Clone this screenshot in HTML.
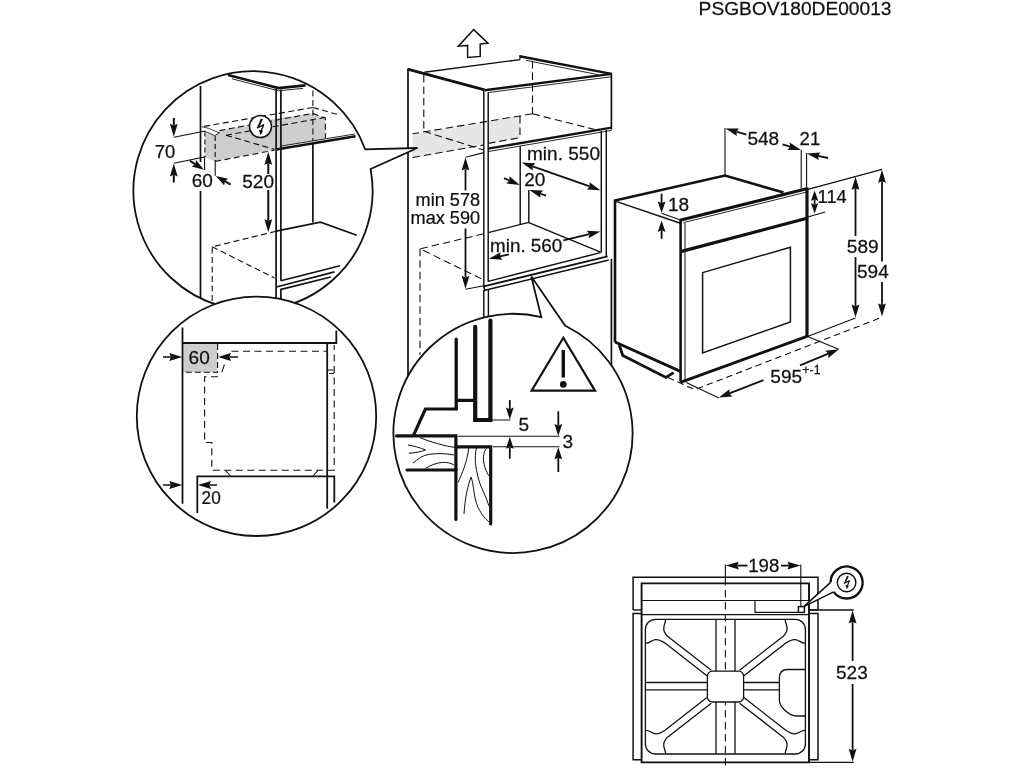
<!DOCTYPE html>
<html><head><meta charset="utf-8"><title>PSGBOV180DE00013</title>
<style>
html,body{margin:0;padding:0;background:#fff;}
body{width:1024px;height:768px;overflow:hidden;font-family:"Liberation Sans",sans-serif;}
svg{display:block;position:absolute;left:0;top:0;will-change:transform;}
text{font-family:"Liberation Sans",sans-serif;fill:#111;stroke:#111;stroke-width:0.25px;}
</style></head><body>
<svg width="1024" height="768" viewBox="0 0 1024 768">
<defs>
<clipPath id="cA"><circle cx="253" cy="190.8" r="119.6"/></clipPath>
<clipPath id="cB"><circle cx="256.5" cy="416.3" r="119.7"/></clipPath>
<clipPath id="cC"><circle cx="513" cy="433.4" r="119.6"/></clipPath>
</defs>
<rect x="0" y="0" width="1024" height="768" fill="#fff"/>
<text transform="translate(698.6 14.6) scale(1.01 1)" font-size="19" text-anchor="start" >PSGBOV180DE00013</text>
<polygon points="473.7,29.6 488,43.2 480.2,44 480.2,56.4 467.6,57.4 467.6,45.4 458.4,46.2" fill="#fff" stroke="#111" stroke-width="1.5" stroke-linejoin="miter"/>
<polygon points="412.5,133.75 483.75,121.9 483.75,145 412.5,157.5" fill="#e6e6e6" stroke="none" stroke-width="0"/>
<polygon points="488,121.2 520,115.85 520,137.7 488,143.4" fill="#e6e6e6" stroke="none" stroke-width="0"/>
<polyline points="408,68.8 408,380" fill="none" stroke="#111" stroke-width="1.7" stroke-linecap="butt" stroke-linejoin="miter" />
<polyline points="407.5,69.2 484.6,89.8" fill="none" stroke="#111" stroke-width="2.8" stroke-linecap="butt" stroke-linejoin="miter" />
<polyline points="484.6,90.2 611.6,73.9" fill="none" stroke="#111" stroke-width="2.4" stroke-linecap="butt" stroke-linejoin="miter" />
<polyline points="488,92.6 611,76.8" fill="none" stroke="#111" stroke-width="0.9" stroke-linecap="butt" stroke-linejoin="miter" />
<polyline points="424.4,72.2 520,59.6" fill="none" stroke="#111" stroke-width="1.4" stroke-linecap="butt" stroke-linejoin="miter" />
<polyline points="520,55 520,59.8" fill="none" stroke="#111" stroke-width="1.1" stroke-linecap="butt" stroke-linejoin="miter" />
<polyline points="519.5,56.2 611.6,73.9" fill="none" stroke="#111" stroke-width="2.4" stroke-linecap="butt" stroke-linejoin="miter" />
<polyline points="526,60.4 598,74.6" fill="none" stroke="#111" stroke-width="0.9" stroke-linecap="butt" stroke-linejoin="miter" />
<polyline points="483.8,91 483.8,287" fill="none" stroke="#111" stroke-width="1.45" stroke-linecap="butt" stroke-linejoin="miter" />
<polyline points="488.2,92.5 488.2,281.5" fill="none" stroke="#111" stroke-width="1.45" stroke-linecap="butt" stroke-linejoin="miter" />
<polyline points="611.4,73.8 611.4,129.5" fill="none" stroke="#111" stroke-width="1.7" stroke-linecap="butt" stroke-linejoin="miter" />
<polyline points="488,148.6 611.5,127.6" fill="none" stroke="#111" stroke-width="2.4" stroke-linecap="butt" stroke-linejoin="miter" />
<polyline points="488,151.6 611.5,130.4" fill="none" stroke="#111" stroke-width="0.9" stroke-linecap="butt" stroke-linejoin="miter" />
<polyline points="601.3,131 601.3,252.5" fill="none" stroke="#111" stroke-width="1.45" stroke-linecap="butt" stroke-linejoin="miter" />
<polyline points="606.3,130 606.3,257" fill="none" stroke="#111" stroke-width="1.45" stroke-linecap="butt" stroke-linejoin="miter" />
<polyline points="423.8,75 423.8,131.3" fill="none" stroke="#111" stroke-width="1.1" stroke-linecap="butt" stroke-linejoin="miter" stroke-dasharray="7.5 4" />
<polyline points="532.5,61 532.5,113.8" fill="none" stroke="#111" stroke-width="1.1" stroke-linecap="butt" stroke-linejoin="miter" stroke-dasharray="7.5 4" />
<polyline points="532.5,113.8 412.5,133.8" fill="none" stroke="#111" stroke-width="1.1" stroke-linecap="butt" stroke-linejoin="miter" stroke-dasharray="7.5 4" />
<polyline points="532.5,113.8 600,130.8" fill="none" stroke="#111" stroke-width="1.1" stroke-linecap="butt" stroke-linejoin="miter" stroke-dasharray="7.5 4" />
<polyline points="412.5,157.5 483.8,145" fill="none" stroke="#111" stroke-width="1.1" stroke-linecap="butt" stroke-linejoin="miter" stroke-dasharray="7.5 4" />
<polyline points="423.8,131.3 483.8,150" fill="none" stroke="#111" stroke-width="1.1" stroke-linecap="butt" stroke-linejoin="miter" stroke-dasharray="7.5 4" />
<polyline points="520,116 520,137.7" fill="none" stroke="#111" stroke-width="1.1" stroke-linecap="butt" stroke-linejoin="miter" stroke-dasharray="7.5 4" />
<polyline points="488,143.4 520,137.7" fill="none" stroke="#111" stroke-width="1.1" stroke-linecap="butt" stroke-linejoin="miter" stroke-dasharray="7.5 4" />
<polyline points="520.2,146.3 520.2,224.2" fill="none" stroke="#111" stroke-width="1.45" stroke-linecap="butt" stroke-linejoin="miter" />
<polyline points="528.8,190 528.8,222.6" fill="none" stroke="#111" stroke-width="1.45" stroke-linecap="butt" stroke-linejoin="miter" />
<polyline points="488.2,232.6 528.8,222.4" fill="none" stroke="#111" stroke-width="1.45" stroke-linecap="butt" stroke-linejoin="miter" />
<polyline points="528.8,222.6 600.5,252.2" fill="none" stroke="#111" stroke-width="1.45" stroke-linecap="butt" stroke-linejoin="miter" />
<polyline points="483.8,233.8 420,248.8 483.8,280" fill="none" stroke="#111" stroke-width="1.1" stroke-linecap="butt" stroke-linejoin="miter" stroke-dasharray="7.5 4" />
<polyline points="420,248.8 420,355" fill="none" stroke="#111" stroke-width="1.1" stroke-linecap="butt" stroke-linejoin="miter" stroke-dasharray="7.5 4" />
<polyline points="483.8,286.4 607.6,256.3" fill="none" stroke="#111" stroke-width="1.8" stroke-linecap="butt" stroke-linejoin="miter" />
<polyline points="483.8,286.4 484.8,290.4 608.8,260" fill="none" stroke="#111" stroke-width="1.6" stroke-linecap="butt" stroke-linejoin="miter" />
<polyline points="488.2,281.4 600.5,252.6" fill="none" stroke="#111" stroke-width="1.45" stroke-linecap="butt" stroke-linejoin="miter" />
<polyline points="483.8,290 483.8,320" fill="none" stroke="#111" stroke-width="1.45" stroke-linecap="butt" stroke-linejoin="miter" />
<polyline points="488.4,289.5 488.4,320" fill="none" stroke="#111" stroke-width="1.45" stroke-linecap="butt" stroke-linejoin="miter" />
<polyline points="611.4,258.8 611.4,368" fill="none" stroke="#111" stroke-width="1.7" stroke-linecap="butt" stroke-linejoin="miter" />
<polyline points="465.5,157.2 483.8,152.6" fill="none" stroke="#111" stroke-width="1.1" stroke-linecap="butt" stroke-linejoin="miter" />
<polygon points="465.5,157.4 469.4,170.4 465.5,168.8 461.6,170.4" fill="#111" stroke="none" stroke-width="0"/>
<polyline points="465.5,190.5 465.5,168.8" fill="none" stroke="#111" stroke-width="1.8" stroke-linecap="butt" stroke-linejoin="miter" />
<text transform="translate(415.6 205.8) scale(0.98 1)" font-size="18.5" text-anchor="start" >min 578</text>
<text transform="translate(410.6 224.4) scale(0.98 1)" font-size="18.5" text-anchor="start" >max 590</text>
<polygon points="465.5,288.8 461.6,275.8 465.5,277.4 469.4,275.8" fill="#111" stroke="none" stroke-width="0"/>
<polyline points="465.5,228.5 465.5,277.4" fill="none" stroke="#111" stroke-width="1.8" stroke-linecap="butt" stroke-linejoin="miter" />
<polyline points="465.5,289.3 483.8,285.8" fill="none" stroke="#111" stroke-width="1.1" stroke-linecap="butt" stroke-linejoin="miter" />
<text transform="translate(527 160) scale(1.03 1)" font-size="18.5" text-anchor="start" >min. 550</text>
<polygon points="521.8,162.6 535.36,163.22 532.56,166.37 532.78,170.58" fill="#111" stroke="none" stroke-width="0"/>
<polygon points="600.5,190.2 586.94,189.58 589.74,186.43 589.52,182.22" fill="#111" stroke="none" stroke-width="0"/>
<polyline points="532.56,166.37 589.74,186.43" fill="none" stroke="#111" stroke-width="1.8" stroke-linecap="butt" stroke-linejoin="miter" />
<text transform="translate(524.2 186.4) scale(1.03 1)" font-size="18.5" text-anchor="start" >20</text>
<polygon points="519.8,185 506.32,183.44 509.33,180.49 509.4,176.28" fill="#111" stroke="none" stroke-width="0"/>
<polyline points="504,178.2 509.33,180.49" fill="none" stroke="#111" stroke-width="1.8" stroke-linecap="butt" stroke-linejoin="miter" />
<polygon points="529.4,190 542.96,190.46 540.2,193.64 540.47,197.85" fill="#111" stroke="none" stroke-width="0"/>
<polyline points="546,195.6 540.2,193.64" fill="none" stroke="#111" stroke-width="1.8" stroke-linecap="butt" stroke-linejoin="miter" />
<text transform="translate(490 251.8) scale(1.02 1)" font-size="18.5" text-anchor="start" >min. 560</text>
<polygon points="600.4,231.4 588.69,238.26 589.32,234.09 586.85,230.68" fill="#111" stroke="none" stroke-width="0"/>
<polyline points="563.4,240.4 589.32,234.09" fill="none" stroke="#111" stroke-width="1.8" stroke-linecap="butt" stroke-linejoin="miter" />
<polygon points="488.8,258.8 500.67,252.22 499.94,256.37 502.33,259.84" fill="#111" stroke="none" stroke-width="0"/>
<polyline points="509,254.4 499.94,256.37" fill="none" stroke="#111" stroke-width="1.8" stroke-linecap="butt" stroke-linejoin="miter" />
<path d="M370.6 169 A119.6 119.6 0 1 1 365.17 149.31 L417.5 148 Z" fill="#fff" stroke="#111" stroke-width="1.8" stroke-linejoin="miter" stroke-linecap="butt" />
<g clip-path="url(#cA)">
<polygon points="205.2,131.8 214.8,135.6 219.5,131 246.6,124.9 275.7,118.5 312.9,113.5 325.4,118.1 325.4,138.5 281.6,146.5 276.2,149.2 214.8,161.2 205.2,157.2" fill="#cdcdcd" stroke="none" stroke-width="0"/>
<polyline points="200.5,86 200.5,162" fill="none" stroke="#111" stroke-width="1.7" stroke-linecap="butt" stroke-linejoin="miter" />
<polyline points="200.5,191 200.5,312" fill="none" stroke="#111" stroke-width="1.7" stroke-linecap="butt" stroke-linejoin="miter" />
<polyline points="228,75 278.5,88.1 305.6,85.4" fill="none" stroke="#111" stroke-width="2.6" stroke-linecap="butt" stroke-linejoin="miter" />
<polyline points="232,78.8 278.6,90.8 303,88.4" fill="none" stroke="#111" stroke-width="0.9" stroke-linecap="butt" stroke-linejoin="miter" />
<polyline points="276.1,88.5 276.1,312" fill="none" stroke="#111" stroke-width="1.7" stroke-linecap="butt" stroke-linejoin="miter" />
<polyline points="280.9,89.5 280.9,280.8" fill="none" stroke="#111" stroke-width="1.7" stroke-linecap="butt" stroke-linejoin="miter" />
<polyline points="280.9,289.4 280.9,312" fill="none" stroke="#111" stroke-width="1.7" stroke-linecap="butt" stroke-linejoin="miter" />
<polyline points="312.9,90.6 312.9,141" fill="none" stroke="#111" stroke-width="1.1" stroke-linecap="butt" stroke-linejoin="miter" stroke-dasharray="6 3.5" />
<polyline points="312.9,143 312.9,222.5" fill="none" stroke="#111" stroke-width="1.7" stroke-linecap="butt" stroke-linejoin="miter" />
<polyline points="312.9,107.5 337.3,114.4" fill="none" stroke="#111" stroke-width="1.1" stroke-linecap="butt" stroke-linejoin="miter" stroke-dasharray="6 3.5" />
<polyline points="312.9,107.5 201.6,126.8" fill="none" stroke="#111" stroke-width="1.1" stroke-linecap="butt" stroke-linejoin="miter" stroke-dasharray="6 3.5" />
<polyline points="219.4,130.6 312.9,113.4 325.4,118.1 325.4,138" fill="none" stroke="#111" stroke-width="1.1" stroke-linecap="butt" stroke-linejoin="miter" stroke-dasharray="6 3.5" />
<polyline points="226,135.2 325.4,117.4" fill="none" stroke="#111" stroke-width="1.1" stroke-linecap="butt" stroke-linejoin="miter" stroke-dasharray="6 3.5" />
<polyline points="226,135.2 274.5,149.4" fill="none" stroke="#111" stroke-width="1.1" stroke-linecap="butt" stroke-linejoin="miter" stroke-dasharray="6 3.5" />
<polyline points="204.9,131.4 204.9,157" fill="none" stroke="#111" stroke-width="1.1" stroke-linecap="butt" stroke-linejoin="miter" stroke-dasharray="5 3" />
<polyline points="215.2,136.1 215.2,161.4" fill="none" stroke="#111" stroke-width="1.1" stroke-linecap="butt" stroke-linejoin="miter" stroke-dasharray="5 3" />
<polyline points="215.2,161.4 274.5,150.2" fill="none" stroke="#111" stroke-width="1.1" stroke-linecap="butt" stroke-linejoin="miter" stroke-dasharray="6 3.5" />
<polyline points="201.6,126.8 208.2,128.2 219.4,132.8 214.8,135.6 205.4,131.4" fill="none" stroke="#111" stroke-width="0.8" stroke-linecap="butt" stroke-linejoin="miter" />
<polyline points="276,149.5 355.6,136.2" fill="none" stroke="#111" stroke-width="2.4" stroke-linecap="butt" stroke-linejoin="miter" />
<polyline points="281.6,146 354.8,134" fill="none" stroke="#111" stroke-width="0.9" stroke-linecap="butt" stroke-linejoin="miter" />
<polyline points="276.2,231.2 320.5,222.2 356.8,235.2" fill="none" stroke="#111" stroke-width="1.7" stroke-linecap="butt" stroke-linejoin="miter" />
<polyline points="276.2,231.2 212.2,246.8 212.2,312" fill="none" stroke="#111" stroke-width="1.1" stroke-linecap="butt" stroke-linejoin="miter" stroke-dasharray="6 3.5" />
<polyline points="212.2,246.8 274.5,277.9" fill="none" stroke="#111" stroke-width="1.1" stroke-linecap="butt" stroke-linejoin="miter" stroke-dasharray="6 3.5" />
<polyline points="280.9,280.8 340.1,265.7" fill="none" stroke="#111" stroke-width="1.7" stroke-linecap="butt" stroke-linejoin="miter" />
<polyline points="276.4,287 334.5,271.9" fill="none" stroke="#111" stroke-width="1.7" stroke-linecap="butt" stroke-linejoin="miter" />
<polyline points="280.2,289.6 330.8,277" fill="none" stroke="#111" stroke-width="1.7" stroke-linecap="butt" stroke-linejoin="miter" />
<polyline points="173.8,137.3 205.4,131" fill="none" stroke="#111" stroke-width="1.1" stroke-linecap="butt" stroke-linejoin="miter" />
<polyline points="173.8,163.2 204.6,157 204.6,170" fill="none" stroke="#111" stroke-width="1.1" stroke-linecap="butt" stroke-linejoin="miter" />
<polygon points="173.8,136.8 169.9,123.8 173.8,125.4 177.7,123.8" fill="#111" stroke="none" stroke-width="0"/>
<polyline points="173.8,118 173.8,125.4" fill="none" stroke="#111" stroke-width="2" stroke-linecap="butt" stroke-linejoin="miter" />
<polygon points="173.8,163.4 177.7,176.4 173.8,174.8 169.9,176.4" fill="#111" stroke="none" stroke-width="0"/>
<polyline points="173.8,182.5 173.8,174.8" fill="none" stroke="#111" stroke-width="2" stroke-linecap="butt" stroke-linejoin="miter" />
<text transform="translate(154.8 158) scale(1 1)" font-size="18.5" text-anchor="start" >70</text>
<polygon points="203.9,169.8 191.71,166.55 195.17,164.15 195.95,160" fill="#111" stroke="none" stroke-width="0"/>
<polyline points="190,160.8 195.17,164.15" fill="none" stroke="#111" stroke-width="2" stroke-linecap="butt" stroke-linejoin="miter" />
<polyline points="215.2,161.4 215.2,175.8" fill="none" stroke="#111" stroke-width="1.1" stroke-linecap="butt" stroke-linejoin="miter" />
<polygon points="215.8,176 228.13,178.66 224.79,181.23 224.22,185.4" fill="#111" stroke="none" stroke-width="0"/>
<polyline points="230.6,184.6 224.79,181.23" fill="none" stroke="#111" stroke-width="2" stroke-linecap="butt" stroke-linejoin="miter" />
<text transform="translate(191.7 187) scale(1.03 1)" font-size="18.5" text-anchor="start" >60</text>
<polygon points="268.3,151.8 272.2,164.8 268.3,163.2 264.4,164.8" fill="#111" stroke="none" stroke-width="0"/>
<polyline points="268.3,174 268.3,163.2" fill="none" stroke="#111" stroke-width="2" stroke-linecap="butt" stroke-linejoin="miter" />
<polygon points="268.3,232.2 264.4,219.2 268.3,220.8 272.2,219.2" fill="#111" stroke="none" stroke-width="0"/>
<polyline points="268.3,190 268.3,220.8" fill="none" stroke="#111" stroke-width="2" stroke-linecap="butt" stroke-linejoin="miter" />
<text transform="translate(242.2 188.2) scale(1.03 1)" font-size="18.5" text-anchor="start" >520</text>
</g>
<circle cx="260.5" cy="126.6" r="11" fill="#fff" stroke="#111" stroke-width="1.5"/>
<polygon points="260.8,118.6 262.9,119.2 259.1,127.6 256.9,128.1" fill="#111" stroke="none" stroke-width="0"/>
<polyline points="257.4,127.7 263.5,124.9" fill="none" stroke="#111" stroke-width="1.5" stroke-linecap="round" stroke-linejoin="miter" />
<polyline points="263.5,124.9 261.1,131.4" fill="none" stroke="#111" stroke-width="1.4" stroke-linecap="round" stroke-linejoin="miter" />
<polygon points="260.5,135.2 258.8,129.8 263,130.9" fill="#111" stroke="none" stroke-width="0"/>
<circle cx="256.5" cy="416.3" r="119.7" fill="#fff" stroke="#111" stroke-width="1.8"/>
<g clip-path="url(#cB)">
<rect x="183.3" y="343.8" width="34" height="28.4" fill="#cdcdcd"/>
<polyline points="217.6,344 217.6,372.2 183.3,372.2" fill="none" stroke="#111" stroke-width="1.1" stroke-linecap="butt" stroke-linejoin="miter" stroke-dasharray="6 3" />
<polyline points="182.5,327.5 182.5,503.8" fill="none" stroke="#111" stroke-width="1.8" stroke-linecap="butt" stroke-linejoin="miter" />
<polyline points="182.5,343 336.3,343 336.3,330.5" fill="none" stroke="#111" stroke-width="1.8" stroke-linecap="butt" stroke-linejoin="miter" />
<polyline points="327.2,343.5 327.2,508.8" fill="none" stroke="#111" stroke-width="1.8" stroke-linecap="butt" stroke-linejoin="miter" />
<polyline points="197.3,513 197.3,476.3 334.3,476.3 334.3,502.5" fill="none" stroke="#111" stroke-width="1.8" stroke-linecap="butt" stroke-linejoin="miter" />
<polyline points="231.5,351.3 326.8,351.3" fill="none" stroke="#111" stroke-width="1.1" stroke-linecap="butt" stroke-linejoin="miter" stroke-dasharray="7 4.5" />
<polyline points="224.4,364.5 221.8,372.3" fill="none" stroke="#111" stroke-width="1.1" stroke-linecap="butt" stroke-linejoin="miter" />
<polyline points="218,376.8 204.6,376.8 204.6,442.5 211.8,442.5 211.8,470.2 334.2,470.2 334.2,345" fill="none" stroke="#111" stroke-width="1.1" stroke-linecap="butt" stroke-linejoin="miter" stroke-dasharray="7 4.5" />
<polyline points="327.5,370 333.5,370" fill="none" stroke="#111" stroke-width="1.1" stroke-linecap="butt" stroke-linejoin="miter" />
<polyline points="329,373.5 334,373.5" fill="none" stroke="#111" stroke-width="1.1" stroke-linecap="butt" stroke-linejoin="miter" />
<polyline points="225.5,470.4 230.5,476" fill="none" stroke="#111" stroke-width="1.1" stroke-linecap="butt" stroke-linejoin="miter" />
<polyline points="318,470.4 313,476" fill="none" stroke="#111" stroke-width="1.1" stroke-linecap="butt" stroke-linejoin="miter" />
<polygon points="182.3,357 169.3,360.9 170.9,357 169.3,353.1" fill="#111" stroke="none" stroke-width="0"/>
<polyline points="163,357 170.9,357" fill="none" stroke="#111" stroke-width="1.7" stroke-linecap="butt" stroke-linejoin="miter" />
<polygon points="218,357 231,353.1 229.4,357 231,360.9" fill="#111" stroke="none" stroke-width="0"/>
<polyline points="238,357 229.4,357" fill="none" stroke="#111" stroke-width="1.7" stroke-linecap="butt" stroke-linejoin="miter" />
<text transform="translate(188.6 363.6) scale(1.03 1)" font-size="18.5" text-anchor="start" >60</text>
<polygon points="182.3,485 169.3,488.9 170.9,485 169.3,481.1" fill="#111" stroke="none" stroke-width="0"/>
<polyline points="163,485 170.9,485" fill="none" stroke="#111" stroke-width="1.7" stroke-linecap="butt" stroke-linejoin="miter" />
<polygon points="198,485 211,481.1 209.4,485 211,488.9" fill="#111" stroke="none" stroke-width="0"/>
<polyline points="217,485 209.4,485" fill="none" stroke="#111" stroke-width="1.7" stroke-linecap="butt" stroke-linejoin="miter" />
<text transform="translate(201.6 504) scale(0.93 1)" font-size="18.5" text-anchor="start" >20</text>
</g>
<path d="M565.24 325.81 A119.6 119.6 0 1 1 541.33 317.2 L531.3 276.6 Z" fill="#fff" stroke="#111" stroke-width="1.8" stroke-linejoin="miter" stroke-linecap="butt" />
<g clip-path="url(#cC)">
<polyline points="490.4,320.5 490.4,420 475.2,420 475.2,326.8" fill="none" stroke="#111" stroke-width="4.2" stroke-linecap="round" stroke-linejoin="miter" />
<polyline points="456.4,400.4 475.2,400.4" fill="none" stroke="#111" stroke-width="3.4" stroke-linecap="butt" stroke-linejoin="miter" />
<polyline points="456.2,339.2 456.2,408.8" fill="none" stroke="#111" stroke-width="3.3" stroke-linecap="round" stroke-linejoin="miter" />
<polyline points="457.6,409 425.4,409 413.4,435.6" fill="none" stroke="#111" stroke-width="3.2" stroke-linecap="butt" stroke-linejoin="miter" />
<polyline points="396.6,435.9 455.9,435.9 455.9,519.5" fill="none" stroke="#111" stroke-width="3.2" stroke-linecap="round" stroke-linejoin="miter" />
<polyline points="455.9,446.8 490.7,446.8 490.7,524" fill="none" stroke="#111" stroke-width="3.2" stroke-linecap="round" stroke-linejoin="miter" />
<polyline points="407,470 455.9,470" fill="none" stroke="#111" stroke-width="3.2" stroke-linecap="round" stroke-linejoin="miter" />
<path d="M420 437.5 C430 442 445 446 454 447.3" fill="none" stroke="#111" stroke-width="1" stroke-linejoin="round" stroke-linecap="butt" />
<path d="M408 445 C414 446 421 448 425.6 450 C420 452 414 453 408.8 453.2" fill="none" stroke="#111" stroke-width="1" stroke-linejoin="round" stroke-linecap="butt" />
<path d="M413 463.2 C418 459 422 455.5 428.8 454.4 C438 453 446 453.5 454 455" fill="none" stroke="#111" stroke-width="1" stroke-linejoin="round" stroke-linecap="butt" />
<path d="M425.6 468.2 C431 465 437 462.8 442.5 462.4 C447 462.2 451 463 454 465" fill="none" stroke="#111" stroke-width="1" stroke-linejoin="round" stroke-linecap="butt" />
<path d="M468.8 448 C467 462 462 474 458 482.5" fill="none" stroke="#111" stroke-width="1" stroke-linejoin="round" stroke-linecap="butt" />
<path d="M476.3 448 C474.5 458 475 466 478.8 480 C481 488 486 496 489 506" fill="none" stroke="#111" stroke-width="1" stroke-linejoin="round" stroke-linecap="butt" />
<path d="M486.3 448.5 C483 453 482.5 460 485 467.5 C486.5 472 488 474.5 489.5 476.3" fill="none" stroke="#111" stroke-width="1" stroke-linejoin="round" stroke-linecap="butt" />
<path d="M464 514 C465 498 468 484 471.2 477 C473.5 484 473.5 492 475.5 500 C478 510 484 518 489 522" fill="none" stroke="#111" stroke-width="1" stroke-linejoin="round" stroke-linecap="butt" />
<polyline points="458,436.3 559.5,436.3" fill="none" stroke="#111" stroke-width="1.1" stroke-linecap="butt" stroke-linejoin="miter" />
<polyline points="493,446.8 559.5,446.8" fill="none" stroke="#111" stroke-width="1.1" stroke-linecap="butt" stroke-linejoin="miter" />
<polyline points="492,420 510.5,420" fill="none" stroke="#111" stroke-width="1.1" stroke-linecap="butt" stroke-linejoin="miter" />
<polygon points="509.8,419.6 505.9,407.6 509.8,409.2 513.7,407.6" fill="#111" stroke="none" stroke-width="0"/>
<polyline points="509.8,400 509.8,409.2" fill="none" stroke="#111" stroke-width="1.8" stroke-linecap="butt" stroke-linejoin="miter" />
<polygon points="509.8,436.8 513.7,448.8 509.8,447.2 505.9,448.8" fill="#111" stroke="none" stroke-width="0"/>
<polyline points="509.8,458.8 509.8,447.2" fill="none" stroke="#111" stroke-width="1.8" stroke-linecap="butt" stroke-linejoin="miter" />
<text transform="translate(518.6 431) scale(1.03 1)" font-size="18.5" text-anchor="start" >5</text>
<polygon points="558.3,435.9 554.4,423.9 558.3,425.5 562.2,423.9" fill="#111" stroke="none" stroke-width="0"/>
<polyline points="558.3,411.3 558.3,425.5" fill="none" stroke="#111" stroke-width="1.8" stroke-linecap="butt" stroke-linejoin="miter" />
<polygon points="558.3,447.3 562.2,459.3 558.3,457.7 554.4,459.3" fill="#111" stroke="none" stroke-width="0"/>
<polyline points="558.3,472 558.3,457.7" fill="none" stroke="#111" stroke-width="1.8" stroke-linecap="butt" stroke-linejoin="miter" />
<text transform="translate(562.4 448.2) scale(1.03 1)" font-size="18.5" text-anchor="start" >3</text>
<polygon points="563.3,337.8 595,390.6 531.6,390.6" fill="none" stroke="#111" stroke-width="2.2" stroke-linejoin="miter"/>
<polyline points="563.3,350 563.3,377.6" fill="none" stroke="#111" stroke-width="3.4" stroke-linecap="butt" stroke-linejoin="miter" />
<circle cx="563.3" cy="384.4" r="3.3" fill="#111"/>
</g>
<polyline points="615,342.3 615,200.6 725,175.5 783.5,192.6" fill="none" stroke="#111" stroke-width="2.6" stroke-linecap="butt" stroke-linejoin="miter" />
<polyline points="616,201.4 680.4,223.2" fill="none" stroke="#111" stroke-width="1.5" stroke-linecap="butt" stroke-linejoin="miter" />
<polyline points="615,342 681,371.6" fill="none" stroke="#111" stroke-width="2.8" stroke-linecap="butt" stroke-linejoin="miter" />
<polyline points="619.2,345 622.8,355.6 666,377.4 673.6,372.6" fill="none" stroke="#111" stroke-width="2.8" stroke-linecap="butt" stroke-linejoin="miter" />
<polyline points="680.6,219.5 680.6,381.5" fill="none" stroke="#111" stroke-width="2.6" stroke-linecap="butt" stroke-linejoin="miter" />
<polyline points="685,223 685,380" fill="none" stroke="#111" stroke-width="1" stroke-linecap="butt" stroke-linejoin="miter" />
<polyline points="680,220.2 806.6,188.8" fill="none" stroke="#111" stroke-width="3.2" stroke-linecap="butt" stroke-linejoin="miter" />
<polyline points="683.5,222.6 806,192.2" fill="none" stroke="#111" stroke-width="0.9" stroke-linecap="butt" stroke-linejoin="miter" />
<polyline points="807,187.4 807,337" fill="none" stroke="#111" stroke-width="3.2" stroke-linecap="butt" stroke-linejoin="miter" />
<polyline points="681.5,251.4 807,218.2" fill="none" stroke="#111" stroke-width="3.2" stroke-linecap="butt" stroke-linejoin="miter" />
<polyline points="680.4,382.4 807,336.4" fill="none" stroke="#111" stroke-width="3" stroke-linecap="butt" stroke-linejoin="miter" />
<polygon points="702.6,272.6 790.4,247.2 790.4,322 702.6,353" fill="none" stroke="#111" stroke-width="1.5" stroke-linejoin="miter"/>
<polyline points="668,377.6 695,389.6 882,317.2" fill="none" stroke="#111" stroke-width="1.1" stroke-linecap="butt" stroke-linejoin="miter" stroke-dasharray="6.5 4" />
<polyline points="686.3,382.6 718.8,398" fill="none" stroke="#111" stroke-width="1.1" stroke-linecap="butt" stroke-linejoin="miter" />
<polyline points="807.5,336.4 838.8,349.3" fill="none" stroke="#111" stroke-width="1.1" stroke-linecap="butt" stroke-linejoin="miter" />
<polyline points="807.5,336.4 855.5,318" fill="none" stroke="#111" stroke-width="1.1" stroke-linecap="butt" stroke-linejoin="miter" />
<polygon points="718.8,397.6 729.5,389.25 729.42,393.46 732.33,396.52" fill="#111" stroke="none" stroke-width="0"/>
<polyline points="763.5,380.2 729.42,393.46" fill="none" stroke="#111" stroke-width="1.8" stroke-linecap="butt" stroke-linejoin="miter" />
<polygon points="838.9,349.3 828.38,357.88 828.37,353.66 825.4,350.67" fill="#111" stroke="none" stroke-width="0"/>
<polyline points="800,365.4 828.37,353.66" fill="none" stroke="#111" stroke-width="1.8" stroke-linecap="butt" stroke-linejoin="miter" />
<text transform="translate(770.3 383.2) scale(1.03 1)" font-size="18.5" text-anchor="start" >595</text>
<text transform="translate(802.3 374.4) scale(1.03 1)" font-size="12" text-anchor="start" stroke="#111" stroke-width="0.3">+-1</text>
<polyline points="725,128 725,175" fill="none" stroke="#111" stroke-width="1.1" stroke-linecap="butt" stroke-linejoin="miter" />
<polygon points="725.4,128.6 738.97,128.4 736.37,131.72 736.84,135.91" fill="#111" stroke="none" stroke-width="0"/>
<polyline points="746.5,134.6 736.37,131.72" fill="none" stroke="#111" stroke-width="1.8" stroke-linecap="butt" stroke-linejoin="miter" />
<text transform="translate(747.4 145) scale(1.03 1)" font-size="18.5" text-anchor="start" >548</text>
<polygon points="801,150 787.43,149.97 790.09,146.7 789.69,142.5" fill="#111" stroke="none" stroke-width="0"/>
<polyline points="782.5,144.4 790.09,146.7" fill="none" stroke="#111" stroke-width="1.8" stroke-linecap="butt" stroke-linejoin="miter" />
<polyline points="801.2,150 801.2,188.5" fill="none" stroke="#111" stroke-width="1.1" stroke-linecap="butt" stroke-linejoin="miter" />
<text transform="translate(799.6 145) scale(1.03 1)" font-size="18" text-anchor="start" >21</text>
<polyline points="806.6,153 806.6,187.5" fill="none" stroke="#111" stroke-width="1.1" stroke-linecap="butt" stroke-linejoin="miter" />
<polygon points="806.8,153.6 820.32,152.42 817.96,155.92 818.74,160.06" fill="#111" stroke="none" stroke-width="0"/>
<polyline points="828,158 817.96,155.92" fill="none" stroke="#111" stroke-width="1.8" stroke-linecap="butt" stroke-linejoin="miter" />
<polyline points="807,189.6 882,169.4" fill="none" stroke="#111" stroke-width="1.1" stroke-linecap="butt" stroke-linejoin="miter" />
<polyline points="807,217.2 825.2,212" fill="none" stroke="#111" stroke-width="1.1" stroke-linecap="butt" stroke-linejoin="miter" />
<polygon points="814.6,190.4 818.3,200.9 814.6,199.3 810.9,200.9" fill="#111" stroke="none" stroke-width="0"/>
<polygon points="814.6,213.6 810.9,203.1 814.6,204.7 818.3,203.1" fill="#111" stroke="none" stroke-width="0"/>
<polyline points="814.6,199.3 814.6,204.7" fill="none" stroke="#111" stroke-width="1.8" stroke-linecap="butt" stroke-linejoin="miter" />
<text transform="translate(817.6 202.6) scale(0.99 1)" font-size="18.5" text-anchor="start" >114</text>
<polygon points="855.5,176.8 859.4,189.8 855.5,188.2 851.6,189.8" fill="#111" stroke="none" stroke-width="0"/>
<polyline points="855.5,236 855.5,188.2" fill="none" stroke="#111" stroke-width="1.8" stroke-linecap="butt" stroke-linejoin="miter" />
<polygon points="855.5,317.6 851.6,304.6 855.5,306.2 859.4,304.6" fill="#111" stroke="none" stroke-width="0"/>
<polyline points="855.5,257 855.5,306.2" fill="none" stroke="#111" stroke-width="1.8" stroke-linecap="butt" stroke-linejoin="miter" />
<polygon points="882,169.8 885.9,182.8 882,181.2 878.1,182.8" fill="#111" stroke="none" stroke-width="0"/>
<polyline points="882,261.5 882,181.2" fill="none" stroke="#111" stroke-width="1.8" stroke-linecap="butt" stroke-linejoin="miter" />
<polygon points="882,316.4 878.1,303.4 882,305 885.9,303.4" fill="#111" stroke="none" stroke-width="0"/>
<polyline points="882,282 882,305" fill="none" stroke="#111" stroke-width="1.8" stroke-linecap="butt" stroke-linejoin="miter" />
<text transform="translate(846.8 253.2) scale(1.03 1)" font-size="18.5" text-anchor="start" >589</text>
<text transform="translate(857 278.2) scale(1.03 1)" font-size="18.5" text-anchor="start" >594</text>
<polygon points="661.6,213 657.7,201.5 661.6,203.1 665.5,201.5" fill="#111" stroke="none" stroke-width="0"/>
<polyline points="661.6,193.6 661.6,203.1" fill="none" stroke="#111" stroke-width="1.8" stroke-linecap="butt" stroke-linejoin="miter" />
<polyline points="661.6,213.2 680.4,220" fill="none" stroke="#111" stroke-width="1.1" stroke-linecap="butt" stroke-linejoin="miter" />
<polygon points="661.6,220.4 665.5,231.9 661.6,230.3 657.7,231.9" fill="#111" stroke="none" stroke-width="0"/>
<polyline points="661.6,238.8 661.6,230.3" fill="none" stroke="#111" stroke-width="1.8" stroke-linecap="butt" stroke-linejoin="miter" />
<text transform="translate(668 210.6) scale(1.03 1)" font-size="18.5" text-anchor="start" >18</text>
<polyline points="633.1,610 633.1,577.2 818,577.2 818,610" fill="none" stroke="#111" stroke-width="1.5" stroke-linecap="butt" stroke-linejoin="miter" />
<polyline points="633.1,610 641.5,610" fill="none" stroke="#111" stroke-width="1.4" stroke-linecap="butt" stroke-linejoin="miter" />
<polyline points="809,610 818,610" fill="none" stroke="#111" stroke-width="1.4" stroke-linecap="butt" stroke-linejoin="miter" />
<polyline points="641.5,613.4 633.1,613.4 633.1,759.8 641.5,759.8" fill="none" stroke="#111" stroke-width="1.5" stroke-linecap="butt" stroke-linejoin="miter" />
<polyline points="809,613.4 818,613.4 818,759.8 809,759.8" fill="none" stroke="#111" stroke-width="1.5" stroke-linecap="butt" stroke-linejoin="miter" />
<polyline points="641.6,762.4 641.6,583.4 809,583.4 809,762.4 641.6,762.4 641.6,700" fill="none" stroke="#111" stroke-width="1.9" stroke-linecap="butt" stroke-linejoin="miter" />
<polyline points="641.6,600.5 809,600.5" fill="none" stroke="#111" stroke-width="1.1" stroke-linecap="butt" stroke-linejoin="miter" />
<polyline points="641.6,614.6 809,614.6" fill="none" stroke="#111" stroke-width="1.4" stroke-linecap="butt" stroke-linejoin="miter" />
<polyline points="755,600.5 755,612.4 798,612.4" fill="none" stroke="#111" stroke-width="1.2" stroke-linecap="butt" stroke-linejoin="miter" />
<rect x="798.4" y="606.6" width="6" height="5.8" fill="#fff" stroke="#111" stroke-width="1.5"/>
<rect x="645.4" y="619.4" width="160" height="134.6" rx="10" ry="10" fill="none" stroke="#111" stroke-width="1.3"/>
<path d="M 665.6 619.6 C 665.6 624 662 627 664.5 632 C 665.5 634 666.5 635.3 667.5 636.25 L 711.25 670.2" fill="none" stroke="#111" stroke-width="1.3" stroke-linejoin="round" stroke-linecap="butt" />
<path d="M 645.6 643 C 649 644 651 640 655.5 639.6 C 659 639.3 662 641 665 643.1 L 706.9 675.8" fill="none" stroke="#111" stroke-width="1.3" stroke-linejoin="round" stroke-linecap="butt" />
<path d="M 665.6 753.8 C 665.6 749.4 662 746.4 664.5 741.4 C 665.5 739.4 666.5 738.1 667.5 737.15 L 711.25 703.2" fill="none" stroke="#111" stroke-width="1.3" stroke-linejoin="round" stroke-linecap="butt" />
<path d="M 645.6 730.4 C 649 729.4 651 733.4 655.5 733.8 C 659 734.1 662 732.4 665 730.3 L 706.9 697.6" fill="none" stroke="#111" stroke-width="1.3" stroke-linejoin="round" stroke-linecap="butt" />
<path d="M 785.2 619.6 C 785.2 624 788.8 627 786.3 632 C 785.3 634 784.3 635.3 783.3 636.25 L 739.55 670.2" fill="none" stroke="#111" stroke-width="1.3" stroke-linejoin="round" stroke-linecap="butt" />
<path d="M 805.2 643 C 801.8 644 799.8 640 795.3 639.6 C 791.8 639.3 788.8 641 785.8 643.1 L 743.9 675.8" fill="none" stroke="#111" stroke-width="1.3" stroke-linejoin="round" stroke-linecap="butt" />
<path d="M 785.2 753.8 C 785.2 749.4 788.8 746.4 786.3 741.4 C 785.3 739.4 784.3 738.1 783.3 737.15 L 739.55 703.2" fill="none" stroke="#111" stroke-width="1.3" stroke-linejoin="round" stroke-linecap="butt" />
<path d="M 805.2 730.4 C 801.8 729.4 799.8 733.4 795.3 733.8 C 791.8 734.1 788.8 732.4 785.8 730.3 L 743.9 697.6" fill="none" stroke="#111" stroke-width="1.3" stroke-linejoin="round" stroke-linecap="butt" />
<polyline points="725.4,578 725.4,768" fill="none" stroke="#111" stroke-width="1.1" stroke-linecap="butt" stroke-linejoin="miter" stroke-dasharray="7.5 4.5" />
<rect x="707.4" y="671.2" width="36.2" height="30.8" rx="5" ry="5" fill="#fff" stroke="#111" stroke-width="1.3"/>
<polyline points="716,619.6 716,671.2" fill="none" stroke="#111" stroke-width="1.3" stroke-linecap="butt" stroke-linejoin="miter" />
<polyline points="716,702 716,753.8" fill="none" stroke="#111" stroke-width="1.3" stroke-linecap="butt" stroke-linejoin="miter" />
<polyline points="735,619.6 735,671.2" fill="none" stroke="#111" stroke-width="1.3" stroke-linecap="butt" stroke-linejoin="miter" />
<polyline points="735,702 735,753.8" fill="none" stroke="#111" stroke-width="1.3" stroke-linecap="butt" stroke-linejoin="miter" />
<polyline points="645.6,682.5 707.4,682.5" fill="none" stroke="#111" stroke-width="1.3" stroke-linecap="butt" stroke-linejoin="miter" />
<polyline points="743.6,682.5 779.4,682.5" fill="none" stroke="#111" stroke-width="1.3" stroke-linecap="butt" stroke-linejoin="miter" />
<polyline points="645.6,689.9 707.4,689.9" fill="none" stroke="#111" stroke-width="1.3" stroke-linecap="butt" stroke-linejoin="miter" />
<polyline points="743.6,689.9 779.4,689.9" fill="none" stroke="#111" stroke-width="1.3" stroke-linecap="butt" stroke-linejoin="miter" />
<path d="M805.2 669.5 L787.5 669.5 C782 669.5 779.4 673 779.4 678 L779.4 700.5 C779.4 706 788 716 797 716 L805.2 716" fill="none" stroke="#111" stroke-width="1.3" stroke-linejoin="round" stroke-linecap="butt" />
<polyline points="725.4,564.5 725.4,577.5" fill="none" stroke="#111" stroke-width="1.1" stroke-linecap="butt" stroke-linejoin="miter" />
<polyline points="800.8,564.5 800.8,606.5" fill="none" stroke="#111" stroke-width="1.1" stroke-linecap="butt" stroke-linejoin="miter" />
<polygon points="725.8,565.6 738.8,561.7 737.2,565.6 738.8,569.5" fill="#111" stroke="none" stroke-width="0"/>
<polyline points="747.5,565.6 737.2,565.6" fill="none" stroke="#111" stroke-width="1.8" stroke-linecap="butt" stroke-linejoin="miter" />
<polygon points="800.5,565.6 787.5,569.5 789.1,565.6 787.5,561.7" fill="#111" stroke="none" stroke-width="0"/>
<polyline points="781,565.6 789.1,565.6" fill="none" stroke="#111" stroke-width="1.8" stroke-linecap="butt" stroke-linejoin="miter" />
<text transform="translate(748.2 572) scale(1.01 1)" font-size="18.5" text-anchor="start" >198</text>
<polyline points="809,610 853.8,610" fill="none" stroke="#111" stroke-width="1.3" stroke-linecap="butt" stroke-linejoin="miter" />
<polyline points="809,762.3 853.8,762.3" fill="none" stroke="#111" stroke-width="1.3" stroke-linecap="butt" stroke-linejoin="miter" />
<polygon points="852.6,610.4 856.5,623.4 852.6,621.8 848.7,623.4" fill="#111" stroke="none" stroke-width="0"/>
<polyline points="852.6,661 852.6,621.8" fill="none" stroke="#111" stroke-width="1.8" stroke-linecap="butt" stroke-linejoin="miter" />
<polygon points="852.6,761.8 848.7,748.8 852.6,750.4 856.5,748.8" fill="#111" stroke="none" stroke-width="0"/>
<polyline points="852.6,684 852.6,750.4" fill="none" stroke="#111" stroke-width="1.8" stroke-linecap="butt" stroke-linejoin="miter" />
<text transform="translate(836 678.8) scale(1.03 1)" font-size="18.5" text-anchor="start" >523</text>
<path d="M830.6 582.36 A16 16 0 1 1 833.66 591.9 L803.6 606.8 Z" fill="#fff" stroke="none"/>
<path d="M830.6 582.36 A16 16 0 1 1 833.66 591.9" fill="none" stroke="#111" stroke-width="2.4" stroke-linejoin="round" stroke-linecap="butt" />
<polyline points="830.6,582.36 803.8,606.6 833.66,591.9" fill="none" stroke="#111" stroke-width="1.5" stroke-linecap="butt" stroke-linejoin="miter" />
<circle cx="846.6" cy="582.5" r="9.3" fill="none" stroke="#111" stroke-width="1.4"/>
<polygon points="847.05,575.74 848.77,576.23 845.65,583.12 843.85,583.53" fill="#111" stroke="none" stroke-width="0"/>
<polyline points="844.26,583.2 849.26,580.91" fill="none" stroke="#111" stroke-width="1.23" stroke-linecap="round" stroke-linejoin="miter" />
<polyline points="849.26,580.91 847.29,586.24" fill="none" stroke="#111" stroke-width="1.15" stroke-linecap="round" stroke-linejoin="miter" />
<polygon points="846.8,589.35 845.41,584.92 848.85,585.83" fill="#111" stroke="none" stroke-width="0"/>
</svg>
</body></html>
